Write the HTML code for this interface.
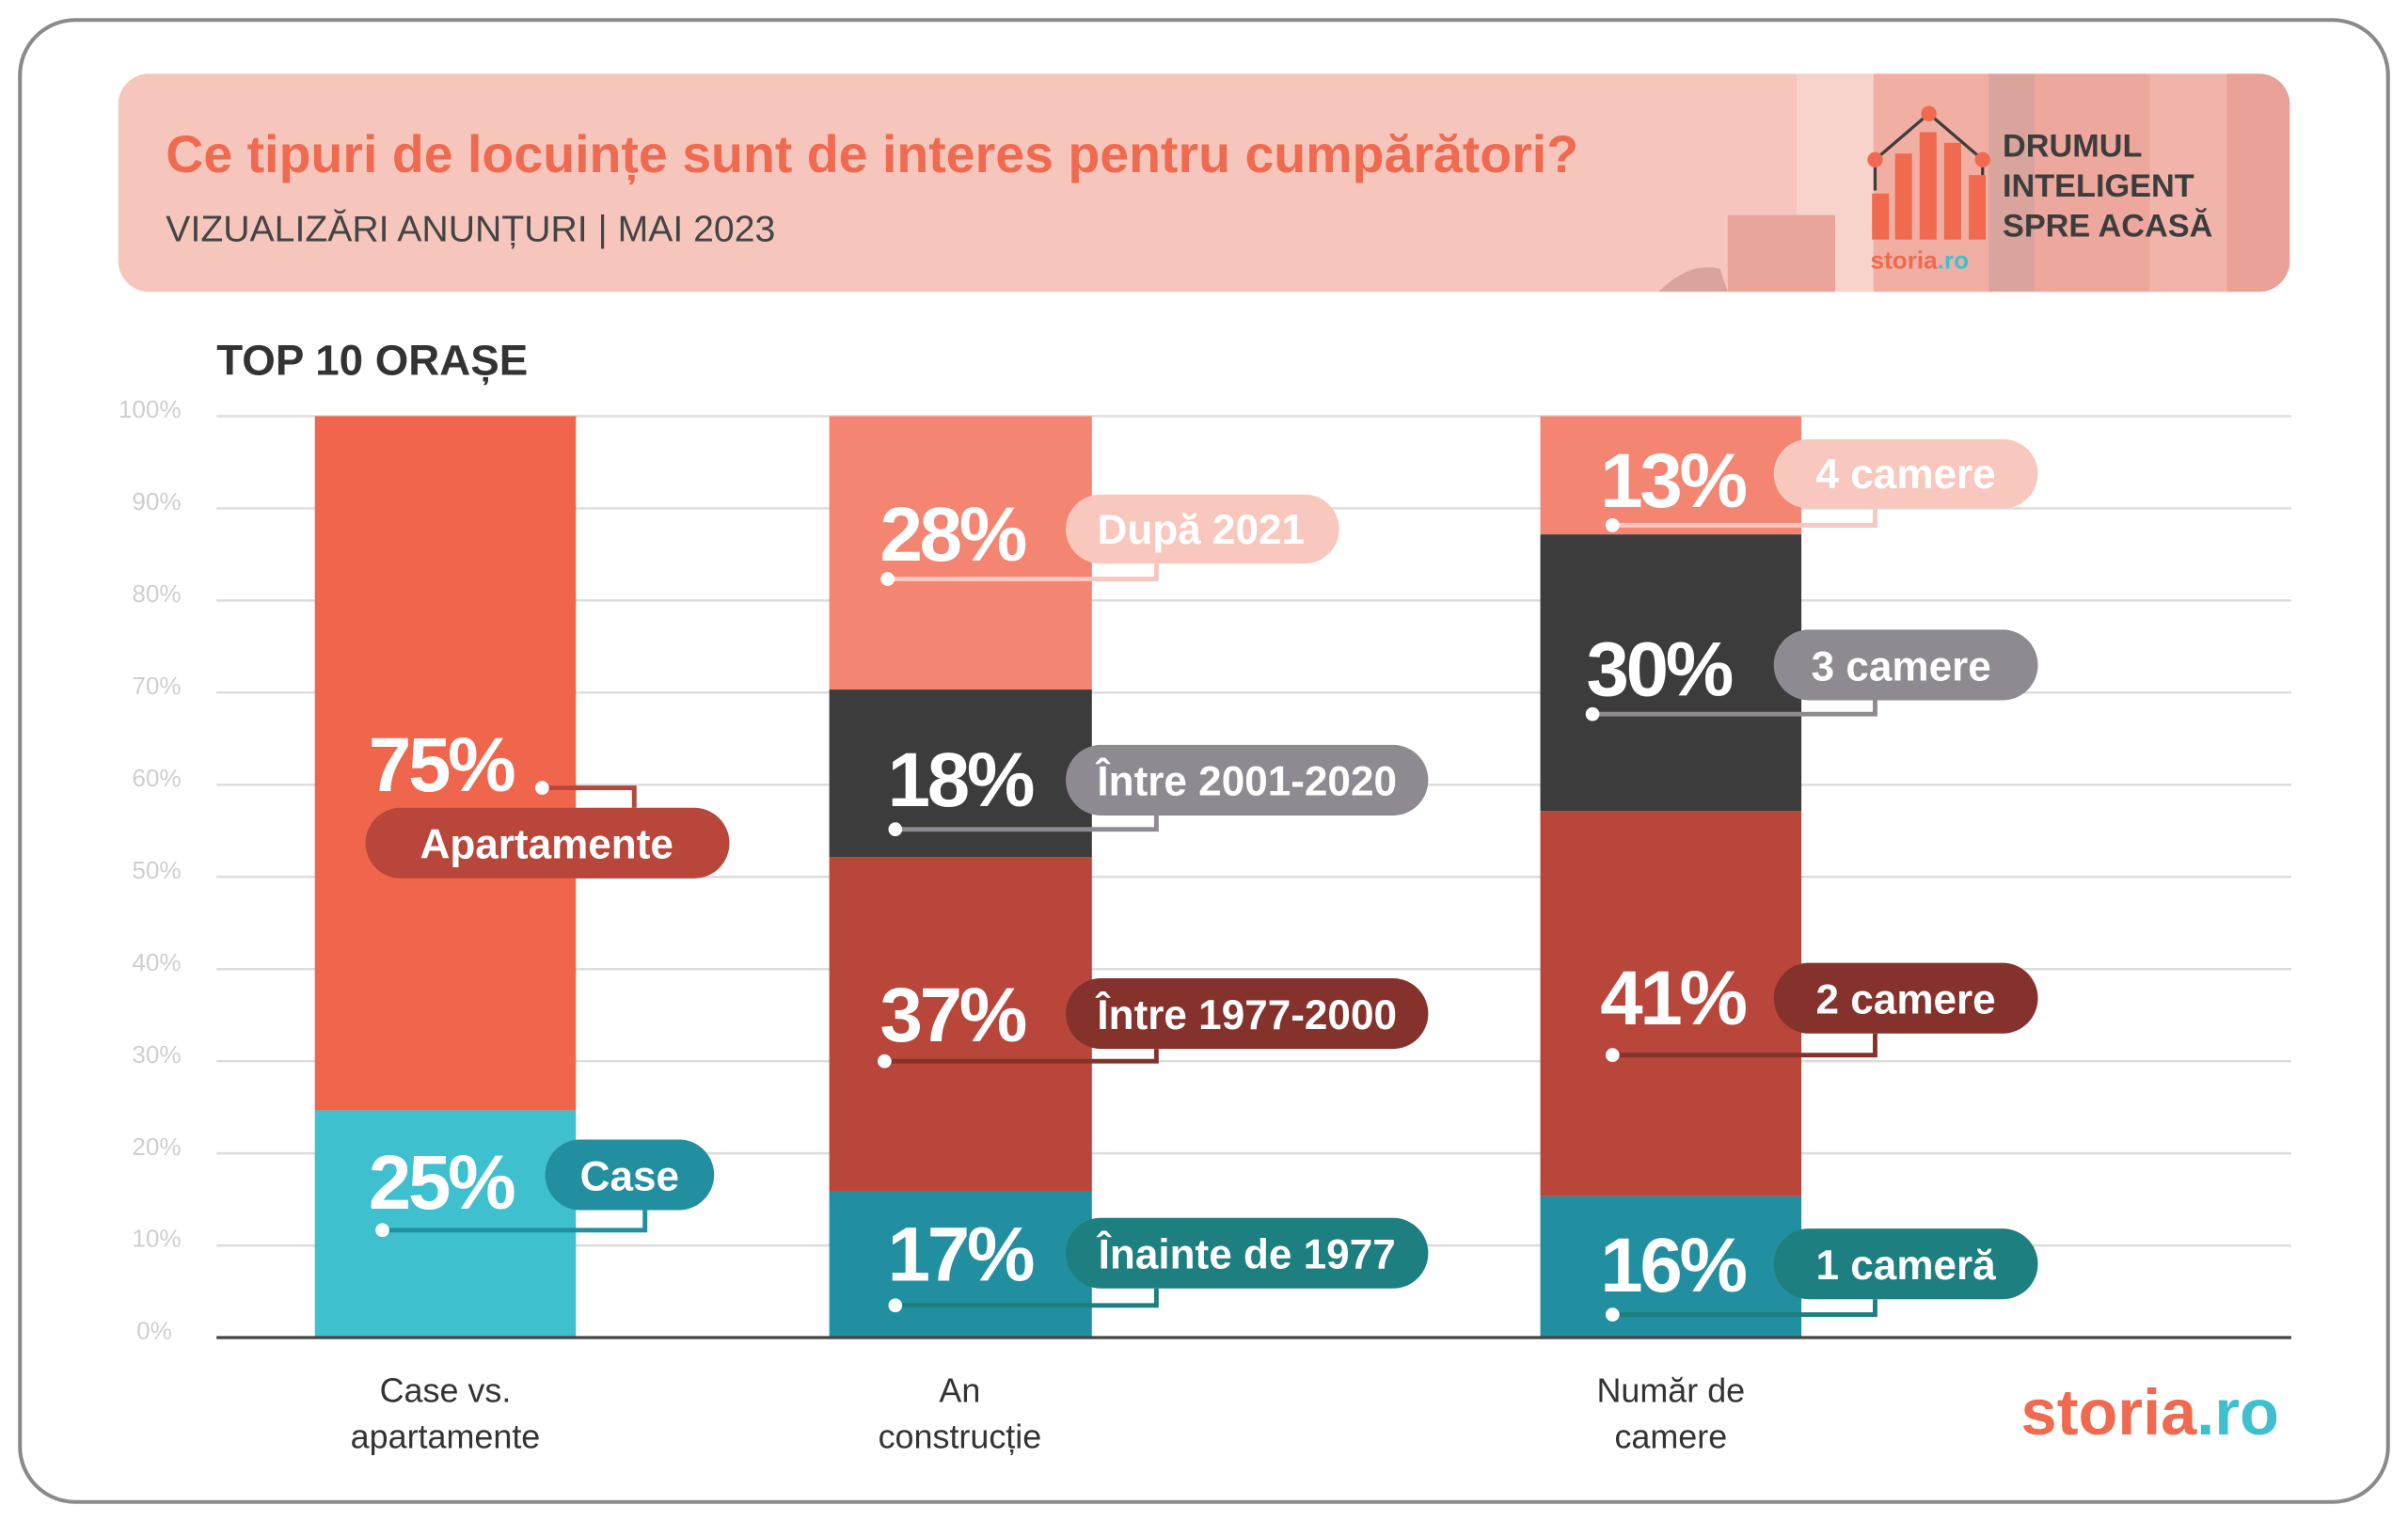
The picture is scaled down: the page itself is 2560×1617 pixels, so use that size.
<!DOCTYPE html>
<html><head><meta charset="utf-8"><style>
html,body{margin:0;padding:0;background:#fff;}
svg{display:block;}
text{font-family:"Liberation Sans",sans-serif;}
.p{font-size:50px;font-weight:bold;fill:#fff;letter-spacing:-2px;}
.l{font-size:27px;font-weight:bold;fill:#fff;}
.g{font-size:16px;fill:#cfcfcf;text-anchor:end;}
.c{font-size:22px;fill:#333;text-anchor:middle;}
</style></head><body>
<svg width="2560" height="1617" viewBox="0 0 1568 990.4" xmlns="http://www.w3.org/2000/svg">
<rect x="13" y="13" width="1542" height="965" rx="36" fill="#fff" stroke="#8a8a8a" stroke-width="2.5"/>
<defs><clipPath id="hc"><rect x="77" y="48" width="1414" height="142" rx="20"/></clipPath></defs>
<rect x="77" y="48" width="1414" height="142" rx="20" fill="#f6c6bd"/>
<g clip-path="url(#hc)">
<rect x="1170" y="48" width="50" height="142" fill="#f8d3cb"/>
<rect x="1220" y="48" width="80" height="142" fill="#f1aea3"/>
<rect x="1295" y="48" width="30" height="142" fill="#d9a49c"/>
<rect x="1325" y="48" width="80" height="142" fill="#eea79c"/>
<rect x="1400" y="48" width="91" height="142" fill="#f1b4aa"/>
<rect x="1450" y="48" width="41" height="142" fill="#e9a096"/>
<rect x="1125" y="140" width="70" height="50" fill="#eaa59b"/>
<path d="M1080 190 Q1100 170 1120 175 L1125 190Z" fill="#d9a49c"/>
</g>
<text x="108" y="112" font-size="34" font-weight="bold" fill="#ef6a4f">Ce tipuri de locuințe sunt de interes pentru cumpărători?</text>
<text x="108" y="157" font-size="24" fill="#444">VIZUALIZĂRI ANUNȚURI | MAI 2023</text>
<g>
<rect x="1219" y="126" width="11" height="30" fill="#ef6a4f"/>
<rect x="1234" y="100" width="11" height="56" fill="#ef6a4f"/>
<rect x="1250" y="86" width="11" height="70" fill="#ef6a4f"/>
<rect x="1266" y="93" width="11" height="63" fill="#ef6a4f"/>
<rect x="1282" y="114" width="11" height="42" fill="#ef6a4f"/>
<polyline points="1221,124 1221,104 1256,74 1291,104 1291,114" fill="none" stroke="#3d3d3d" stroke-width="2"/>
<circle cx="1256" cy="74" r="5" fill="#ef6a4f"/><circle cx="1221" cy="104" r="5" fill="#ef6a4f"/><circle cx="1291" cy="104" r="5" fill="#ef6a4f"/>
<text x="1218" y="175" font-size="16" font-weight="bold" fill="#ef6a4f">storia<tspan fill="#3fc0cf">.ro</tspan></text>
<text font-size="21" font-weight="bold" fill="#3d3d3d"><tspan x="1304" y="102">DRUMUL</tspan><tspan x="1304" y="128">INTELIGENT</tspan><tspan x="1304" y="154">SPRE ACASĂ</tspan></text>
</g>
<text x="141" y="244" font-size="28" font-weight="bold" fill="#333">TOP 10 ORAȘE</text>
<g stroke="#dcdcdc" stroke-width="1.5">
<line x1="141" y1="271" x2="1492" y2="271"/><line x1="141" y1="331" x2="1492" y2="331"/><line x1="141" y1="391" x2="1492" y2="391"/><line x1="141" y1="451" x2="1492" y2="451"/><line x1="141" y1="511" x2="1492" y2="511"/><line x1="141" y1="571" x2="1492" y2="571"/><line x1="141" y1="631" x2="1492" y2="631"/><line x1="141" y1="691" x2="1492" y2="691"/><line x1="141" y1="751" x2="1492" y2="751"/><line x1="141" y1="811" x2="1492" y2="811"/>
</g>
<g class="g">
<text class="g" x="118" y="272">100%</text><text class="g" x="118" y="332">90%</text><text class="g" x="118" y="392">80%</text><text class="g" x="118" y="452">70%</text><text class="g" x="118" y="512">60%</text><text class="g" x="118" y="572">50%</text><text class="g" x="118" y="632">40%</text><text class="g" x="118" y="692">30%</text><text class="g" x="118" y="752">20%</text><text class="g" x="118" y="812">10%</text><text class="g" x="112" y="872">0%</text>
</g>
<rect x="205" y="271" width="170" height="452" fill="#f0664c"/>
<rect x="205" y="723" width="170" height="148" fill="#3fc0cf"/>
<rect x="540" y="271" width="171" height="178" fill="#f48572"/>
<rect x="540" y="449" width="171" height="109" fill="#3c3c3c"/>
<rect x="540" y="558" width="171" height="218" fill="#b9463b"/>
<rect x="540" y="776" width="171" height="95" fill="#218f9f"/>
<rect x="1003" y="271" width="170" height="77" fill="#f48572"/>
<rect x="1003" y="348" width="170" height="180" fill="#3c3c3c"/>
<rect x="1003" y="528" width="170" height="251" fill="#b9463b"/>
<rect x="1003" y="779" width="170" height="92" fill="#218f9f"/>
<line x1="141" y1="871" x2="1492" y2="871" stroke="#444" stroke-width="2"/>
<g fill="none" stroke-width="3">
<polyline points="353,513 413,513 413,526" stroke="#b9463b"/>
<polyline points="249,801 420,801 420,788" stroke="#218f9f"/>
<polyline points="578,377 753,377 753,367" stroke="#f8c8be"/>
<polyline points="583,540 753,540 753,531" stroke="#8f8a91"/>
<polyline points="576,691 753,691 753,683" stroke="#86322c"/>
<polyline points="583,850 753,850 753,839" stroke="#1d7f80"/>
<polyline points="1050,342 1221,342 1221,331" stroke="#f8c8be"/>
<polyline points="1037,465 1221,465 1221,456" stroke="#8f8a91"/>
<polyline points="1050,687 1221,687 1221,673" stroke="#86322c"/>
<polyline points="1050,856 1221,856 1221,846" stroke="#1d7f80"/>
</g>
<g fill="#fff">
<circle cx="353" cy="513" r="4.5"/><circle cx="249" cy="801" r="4.5"/><circle cx="578" cy="377" r="4.5"/><circle cx="583" cy="540" r="4.5"/><circle cx="576" cy="691" r="4.5"/><circle cx="583" cy="850" r="4.5"/><circle cx="1050" cy="342" r="4.5"/><circle cx="1037" cy="465" r="4.5"/><circle cx="1050" cy="687" r="4.5"/><circle cx="1050" cy="856" r="4.5"/>
</g>
<rect x="238" y="526" width="237" height="46" rx="23" fill="#b9463b"/>
<rect x="355" y="742" width="110" height="46" rx="23" fill="#218f9f"/>
<rect x="694" y="322" width="178" height="45" rx="22.5" fill="#f8c8be"/>
<rect x="694" y="485" width="236" height="46" rx="23" fill="#8f8a91"/>
<rect x="694" y="637" width="236" height="46" rx="23" fill="#86322c"/>
<rect x="694" y="793" width="236" height="46" rx="23" fill="#1d7f80"/>
<rect x="1155" y="286" width="172" height="45" rx="22.5" fill="#f8c8be"/>
<rect x="1155" y="410" width="172" height="46" rx="23" fill="#8f8a91"/>
<rect x="1155" y="627" width="172" height="46" rx="23" fill="#86322c"/>
<rect x="1155" y="800" width="172" height="46" rx="23" fill="#1d7f80"/>
<text class="l" x="356" y="559" text-anchor="middle" font-size="30">Apartamente</text>
<text class="l" x="410" y="775" text-anchor="middle">Case</text>
<text class="l" x="782" y="354" text-anchor="middle">După 2021</text>
<text class="l" x="812" y="518" text-anchor="middle">Între 2001-2020</text>
<text class="l" x="812" y="670" text-anchor="middle">Între 1977-2000</text>
<text class="l" x="812" y="826" text-anchor="middle">Înainte de 1977</text>
<text class="l" x="1241" y="318" text-anchor="middle">4 camere</text>
<text class="l" x="1238" y="443" text-anchor="middle">3 camere</text>
<text class="l" x="1241" y="660" text-anchor="middle">2 camere</text>
<text class="l" x="1241" y="833" text-anchor="middle">1 cameră</text>
<text class="p" x="240" y="515">75%</text>
<text class="p" x="240" y="787">25%</text>
<text class="p" x="573" y="365">28%</text>
<text class="p" x="578" y="525">18%</text>
<text class="p" x="573" y="678">37%</text>
<text class="p" x="578" y="834">17%</text>
<text class="p" x="1042" y="330">13%</text>
<text class="p" x="1033" y="453">30%</text>
<text class="p" x="1042" y="667">41%</text>
<text class="p" x="1042" y="841">16%</text>
<text class="c" x="290" y="913">Case vs.</text><text class="c" x="290" y="943">apartamente</text>
<text class="c" x="625" y="913">An</text><text class="c" x="625" y="943">construcție</text>
<text class="c" x="1088" y="913">Număr de</text><text class="c" x="1088" y="943">camere</text>
<text x="1316" y="934" font-size="42" font-weight="bold" fill="#ef6a4f">storia<tspan fill="#3fc0cf">.ro</tspan></text>
</svg>
</body></html>
